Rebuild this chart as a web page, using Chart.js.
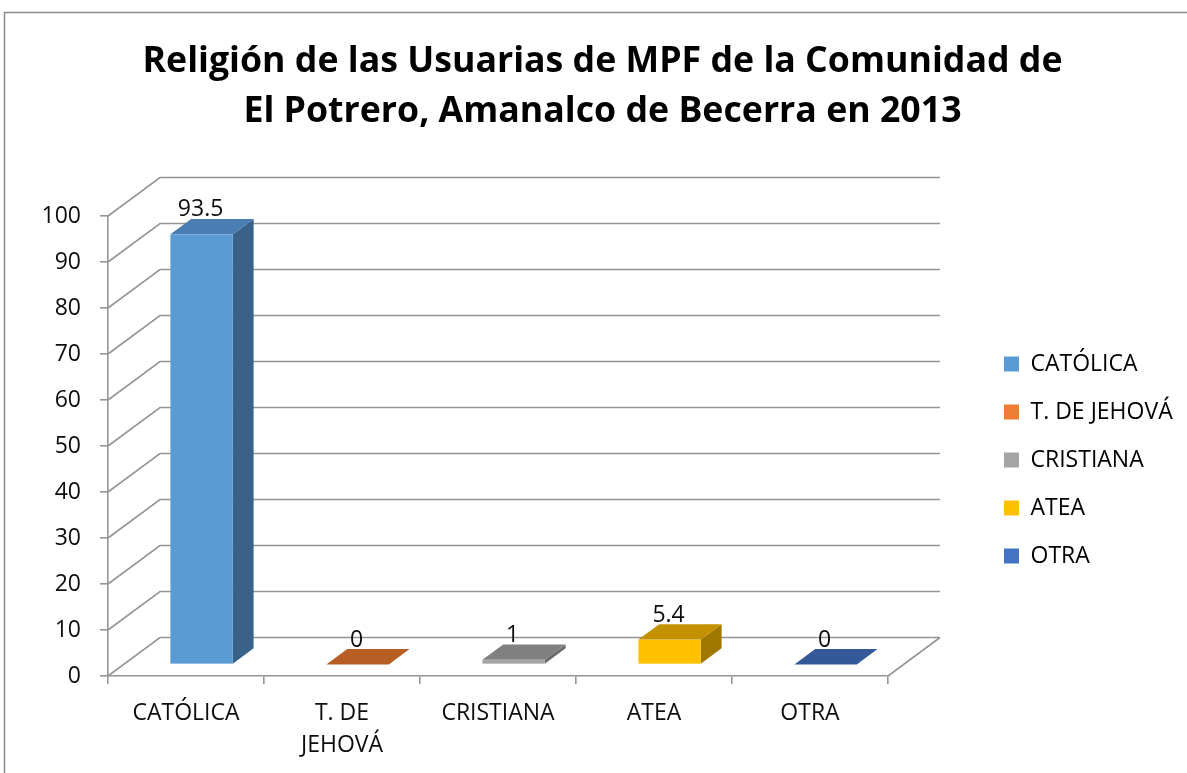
<!DOCTYPE html>
<html>
<head>
<meta charset="utf-8">
<script src="https://cdn.jsdelivr.net/npm/chart.js@4.4.1/dist/chart.umd.min.js"></script>
<style>
  html, body { margin: 0; padding: 0; background: #ffffff; overflow: hidden; }
  #wrap { position: relative; width: 1187px; height: 773px; }
</style>
</head>
<body>
<div id="wrap"><canvas id="c"></canvas></div>
<script>
// ---- data ----
const categories = ['CATÓLICA', 'T. DE JEHOVÁ', 'CRISTIANA', 'ATEA', 'OTRA'];
const axisLabels = [['CATÓLICA'], ['T. DE', 'JEHOVÁ'], ['CRISTIANA'], ['ATEA'], ['OTRA']];
const values = [93.5, 0, 1, 5.4, 0];
const valueLabels = ['93.5', '0', '1', '5.4', '0'];
const yMin = 0;
const yMax = 100;
const yStep = 10;
const titleLines = ['Religión de las Usuarias de MPF de la Comunidad de', 'El Potrero, Amanalco de Becerra en 2013'];

// ---- colours ----
const faceColors = ['#5B9BD5', '#ED7D31', '#A5A5A5', '#FFC000', '#4472C4'];
const topColors  = ['#4A7DB1', '#B65E23', '#808080', '#C39200', '#345999'];
const sideColors = ['#3A6289', '#984D1C', '#6A6A6A', '#A07800', '#2A4A80'];
const GRID = '#959595';
const TEXT = '#0d0d0d';

// ---- 3D geometry (depth of the floor/walls) ----
const DX = 52, DY = -38.5, BAR_FRONT = 0.3, BAR_BACK = 0.7;

Chart.defaults.font.family = "'Open Sans', 'DejaVu Sans', sans-serif";
Chart.defaults.color = TEXT;

const threeD = {
  id: 'threeD',
  beforeDraw(chart) {
    const ctx = chart.ctx;
    ctx.save();
    ctx.strokeStyle = '#8a8a8a';
    ctx.lineWidth = 1.5;
    ctx.beginPath();
    ctx.moveTo(4.5, chart.height);
    ctx.lineTo(4.5, 12.5);
    ctx.lineTo(chart.width, 12.5);
    ctx.stroke();
    ctx.restore();
  },
  afterLayout(chart) {
    const lg = chart.legend;
    if (!lg) return;
    lg.left = 979; lg.right = chart.width;
    lg.top = 327.5; lg.bottom = chart.height;
    lg.width = lg.right - lg.left; lg.height = lg.bottom - lg.top;
  },
  beforeDatasetsDraw(chart) {
    const ctx = chart.ctx, ys = chart.scales.y, a = chart.chartArea;
    ctx.save();
    ctx.strokeStyle = GRID;
    ctx.lineWidth = 1.6;
    ys.ticks.forEach(t => {
      const py = ys.getPixelForValue(t.value);
      ctx.beginPath();
      ctx.moveTo(a.left, py);
      ctx.lineTo(a.left + DX, py + DY);
      ctx.lineTo(a.right + DX, py + DY);
      ctx.stroke();
    });
    const p0 = ys.getPixelForValue(yMin);
    ctx.beginPath();
    ctx.moveTo(a.right, p0);
    ctx.lineTo(a.right + DX, p0 + DY);
    ctx.stroke();
    ctx.restore();
  },
  afterDatasetsDraw(chart) {
    const ctx = chart.ctx;
    const meta = chart.getDatasetMeta(0);
    const fx = DX * BAR_FRONT, fy = DY * BAR_FRONT;
    const dx = DX * (BAR_BACK - BAR_FRONT), dy = DY * (BAR_BACK - BAR_FRONT);
    ctx.save();
    meta.data.forEach((el, i) => {
      const p = el.getProps(['x', 'y', 'base', 'width'], true);
      const L = p.x - p.width / 2 + fx, R = p.x + p.width / 2 + fx;
      const T = Math.min(p.y, p.base) + fy, B = Math.max(p.y, p.base) + fy;
      // side
      ctx.fillStyle = sideColors[i];
      ctx.beginPath();
      ctx.moveTo(R, T); ctx.lineTo(R + dx, T + dy); ctx.lineTo(R + dx, B + dy); ctx.lineTo(R, B);
      ctx.closePath(); ctx.fill();
      // front
      ctx.fillStyle = faceColors[i];
      ctx.fillRect(L, T, R - L, B - T);
      // top
      ctx.fillStyle = topColors[i];
      ctx.beginPath();
      ctx.moveTo(L, T); ctx.lineTo(R, T); ctx.lineTo(R + dx, T + dy); ctx.lineTo(L + dx, T + dy);
      ctx.closePath(); ctx.fill();
      // value label
      ctx.fillStyle = TEXT;
      ctx.font = "23px 'Open Sans', sans-serif";
      ctx.textAlign = 'center';
      ctx.textBaseline = 'middle';
      ctx.fillText(valueLabels[i], p.x + fx - 1, T + dy - 9);
    });
    ctx.restore();
  }
};

new Chart(document.getElementById('c'), {
  type: 'bar',
  data: {
    labels: categories,
    datasets: [{
      label: 'Religión',
      data: values,
      backgroundColor: 'rgba(0,0,0,0)',
      borderWidth: 0,
      barPercentage: 0.4,
      categoryPercentage: 1.0
    }]
  },
  options: {
    responsive: true,
    maintainAspectRatio: false,
    animation: false,
    devicePixelRatio: 1,
    layout: { padding: { left: 18, right: 0, top: 0, bottom: 0 } },
    plugins: {
      tooltip: { enabled: false },
      title: {
        display: true,
        text: titleLines,
        color: '#000',
        font: { size: 35.7, weight: 'bold', lineHeight: '50px' },
        padding: { top: 37, bottom: 79 }
      },
      legend: {
        display: true,
        position: 'chartArea',
        align: 'start',
        labels: {
          boxWidth: 15,
          boxHeight: 15,
          padding: 25,
          color: TEXT,
          font: { size: 23 },
          generateLabels: () => categories.map((c, i) => ({
            text: c, fillStyle: faceColors[i], strokeStyle: faceColors[i],
            lineWidth: 0, hidden: false, index: i, datasetIndex: 0
          }))
        }
      }
    },
    scales: {
      x: {
        type: 'category',
        offset: true,
        grid: { display: true, drawOnChartArea: false, drawTicks: true, tickLength: 8, offset: true, color: GRID, lineWidth: 1.6 },
        border: { display: true, color: GRID, width: 1.6 },
        ticks: {
          padding: 13,
          color: TEXT,
          font: { size: 23, lineHeight: '32px' },
          maxRotation: 0,
          autoSkip: false,
          callback: (v, i) => axisLabels[i]
        },
        afterFit: s => { s.height = 97; }
      },
      y: {
        type: 'linear',
        position: 'left',
        min: yMin,
        max: yMax,
        grid: { display: true, drawOnChartArea: false, drawTicks: true, tickLength: 8, color: GRID, lineWidth: 1.6 },
        border: { display: true, color: GRID, width: 1.6 },
        ticks: { stepSize: yStep, padding: 19, color: TEXT, font: { size: 23 } },
        afterFit: s => { s.width = 90; }
      },
      y2: {
        type: 'linear',
        position: 'right',
        display: true,
        grid: { display: false },
        border: { display: false },
        ticks: { display: false },
        afterFit: s => { s.width = 299; }
      }
    }
  },
  plugins: [threeD]
});
</script>
</body>
</html>
